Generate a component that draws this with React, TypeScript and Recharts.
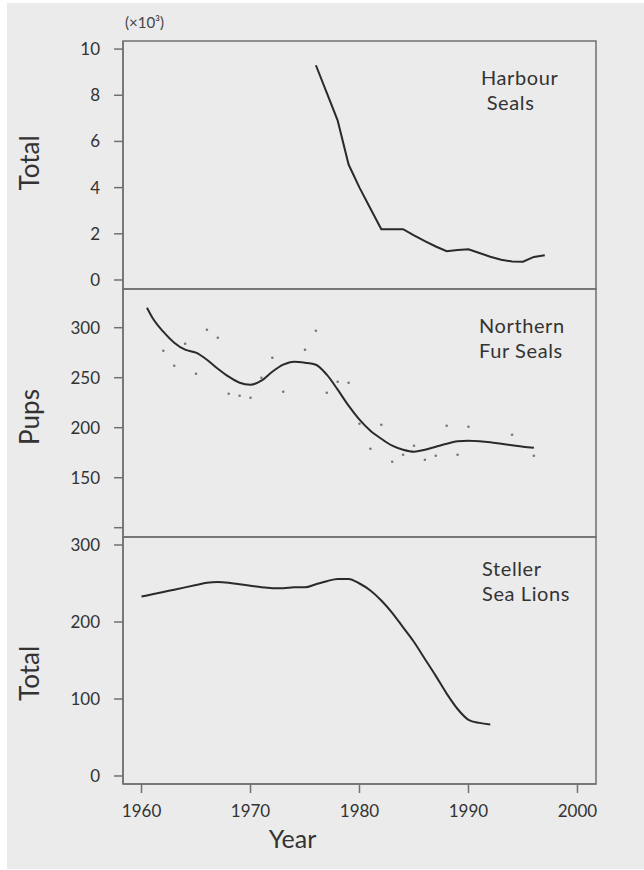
import React from "react";
import { LineChart, Line, XAxis, YAxis, ReferenceArea, Label } from "recharts";

// Harbour seals, total (x 10^3)
const harbourYears = [1976, 1977, 1978, 1979, 1980, 1981, 1982, 1983, 1984, 1985, 1986, 1987, 1988, 1989, 1990, 1991, 1992, 1993, 1994, 1995, 1996, 1997];
const harbourTotals = [9.3, 8.1, 6.9, 5.0, 4.0, 3.1, 2.2, 2.2, 2.2, 1.93, 1.68, 1.45, 1.25, 1.3, 1.33, 1.17, 1.01, 0.88, 0.8, 0.79, 1.0, 1.07];

// Northern fur seals, pups (x 10^3): smoothed trend + yearly counts
const furTrendYears = [1960.5, 1961, 1962, 1963, 1964, 1965, 1966, 1967, 1968, 1969, 1970, 1971, 1972, 1973, 1974, 1975, 1976, 1977, 1978, 1979, 1980, 1981, 1982, 1983, 1984, 1985, 1986, 1987, 1988, 1989, 1990, 1991, 1992, 1993, 1994, 1995, 1996];
const furTrend = [320, 310, 296, 285, 278, 275, 268, 259, 251, 245, 243, 247, 256, 263, 266, 265, 263, 253, 238, 222, 208, 197, 189, 182, 178, 176, 178, 181, 184, 186.5, 187, 186.5, 185.5, 184, 182.5, 181, 180];
const furCountYears = [1962, 1963, 1964, 1965, 1966, 1967, 1968, 1969, 1970, 1971, 1972, 1973, 1975, 1976, 1977, 1978, 1979, 1980, 1981, 1982, 1983, 1984, 1985, 1986, 1987, 1988, 1989, 1990, 1994, 1996];
const furCounts = [277, 262, 284, 254, 298, 290, 234, 232, 230, 250, 270, 236, 278, 297, 235, 246, 245, 204, 179, 203, 166, 173, 182, 168, 172, 202, 173, 201, 193, 172];

// Steller sea lions, total (x 10^3)
const stellerYears = [1960, 1961, 1962, 1963, 1964, 1965, 1966, 1967, 1968, 1969, 1970, 1971, 1972, 1973, 1974, 1975, 1976, 1977, 1978, 1979, 1980, 1981, 1982, 1983, 1984, 1985, 1986, 1987, 1988, 1989, 1990, 1991, 1992];
const stellerTotals = [233, 236, 239, 242, 245, 248, 251, 252, 251, 249, 247, 245, 244, 244, 245, 245, 249, 253, 256, 256, 250, 241, 228, 212, 193, 174, 152, 130, 107, 87, 73, 69, 67];

const yearTicks = [1960, 1970, 1980, 1990, 2000];
const harbourTicks = [0, 2, 4, 6, 8, 10];
const furTicks = [100, 150, 200, 250, 300];
const stellerTicks = [0, 100, 200, 300];

const xDomain: [number, number] = [1958.3, 2001.7];
const harbourDomain: [number, number] = [-0.39, 10.35];
const furDomain: [number, number] = [90.7, 338.7];
const stellerDomain: [number, number] = [-10.4, 310.4];

const pairs = (xs: number[], ys: number[]) => xs.map((year, i) => ({ year, value: ys[i] }));

const FONT = "Lato, 'DejaVu Sans', sans-serif";
const INK = "#2a2a2a";
const FRAME = "#707070";
const BG = "#ebebeb";
const tickStyle = { fontSize: 17, fill: "#333", fontFamily: FONT };

const W = 637;
const margin = { left: 0, right: 48 };

interface PanelProps {
  top: number;
  height: number;
  marginTop: number;
  marginBottom: number;
  yDomain: [number, number];
  yTicks: number[];
  yTitle: string;
  titleDy: number;
  showX?: boolean;
  hideTick?: number;
  children: React.ReactNode;
}

const Panel = ({ top, height, marginTop, marginBottom, yDomain, yTicks, yTitle, titleDy, showX, hideTick, children }: PanelProps) => (
  <div style={{ position: "absolute", left: 0, top }}>
    <LineChart width={W} height={height} margin={{ ...margin, top: marginTop, bottom: marginBottom }}>
      <XAxis
        type="number"
        dataKey="year"
        domain={xDomain}
        allowDataOverflow
        ticks={yearTicks}
        hide={!showX}
        height={80}
        tickSize={9}
        tickMargin={12}
        tick={tickStyle}
        axisLine={{ stroke: FRAME, strokeWidth: 1.5 }}
        tickLine={{ stroke: FRAME, strokeWidth: 1.5 }}
      >
        {showX && (
          <Label value="Year" position="insideTop" offset={46} dx={-67} style={{ fontSize: 25, fill: "#333", fontFamily: FONT }} />
        )}
      </XAxis>
      <YAxis
        type="number"
        domain={yDomain}
        allowDataOverflow
        ticks={yTicks}
        width={116}
        tickSize={9}
        tickMargin={14}
        tick={tickStyle}
        tickFormatter={(v: number) => (v === hideTick ? "" : String(v))}
        axisLine={{ stroke: FRAME, strokeWidth: 1.5 }}
        tickLine={{ stroke: FRAME, strokeWidth: 1.5 }}
      >
        <Label value={yTitle} angle={-90} position="center" dx={-35} dy={titleDy} style={{ fontSize: 26, fill: "#333", fontFamily: FONT }} />
      </YAxis>
      <ReferenceArea x1={xDomain[0]} x2={xDomain[1]} y1={yDomain[0]} y2={yDomain[1]} fill="none" stroke={FRAME} strokeWidth={1.5} />
      {children}
    </LineChart>
  </div>
);

const note = (left: number, top: number, lines: string[]) => (
  <div
    style={{
      position: "absolute",
      left,
      top,
      fontFamily: FONT,
      fontSize: 20,
      lineHeight: "25px",
      letterSpacing: 0.6,
      color: "#333",
    }}
  >
    {lines.map((l) => (
      <div key={l}>{l}</div>
    ))}
  </div>
);

export default function App() {
  return (
    <div style={{ position: "absolute", left: 7, top: 3, width: W, height: 866, background: BG }}>
      <div style={{ position: "absolute", left: 118, top: 10, fontFamily: FONT, fontSize: 15, color: "#444" }}>(×10³)</div>
      <Panel top={0} height={291} marginTop={38} marginBottom={5} yDomain={harbourDomain} yTicks={harbourTicks} yTitle="Total" titleDy={-2}>
        <Line data={pairs(harbourYears, harbourTotals)} dataKey="value" type="linear" stroke={INK} strokeWidth={2} dot={false} activeDot={false} isAnimationActive={false} />
      </Panel>
      <Panel top={281} height={258} marginTop={5} marginBottom={5} yDomain={furDomain} yTicks={furTicks} yTitle="Pups" titleDy={4} hideTick={100}>
        <Line data={pairs(furCountYears, furCounts)} dataKey="value" stroke="none" dot={{ r: 1.3, fill: "#777", stroke: "none" }} activeDot={false} isAnimationActive={false} />
        <Line data={pairs(furTrendYears, furTrend)} dataKey="value" type="monotone" stroke={INK} strokeWidth={2} dot={false} activeDot={false} isAnimationActive={false} />
      </Panel>
      <Panel top={529} height={332} marginTop={5} marginBottom={0} yDomain={stellerDomain} yTicks={stellerTicks} yTitle="Total" titleDy={13} showX>
        <Line data={pairs(stellerYears, stellerTotals)} dataKey="value" type="monotone" stroke={INK} strokeWidth={2} dot={false} activeDot={false} isAnimationActive={false} />
      </Panel>
      {note(474, 62, ["Harbour", "\u00a0Seals"])}
      {note(472, 310, ["Northern", "Fur Seals"])}
      {note(475, 553, ["Steller", "Sea Lions"])}
    </div>
  );
}
